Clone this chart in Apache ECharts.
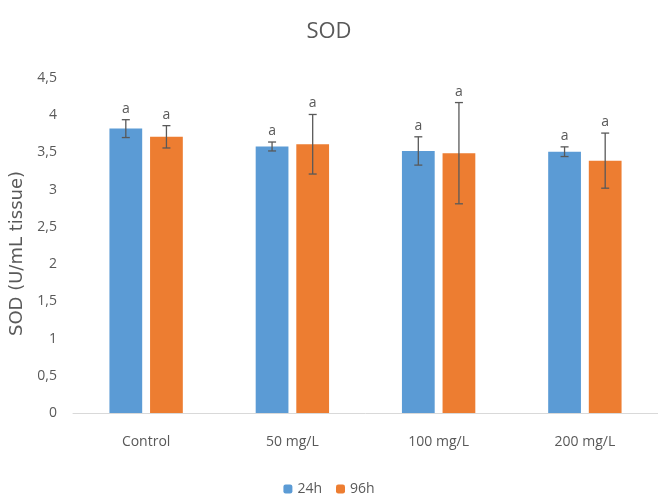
<!DOCTYPE html>
<html><head><meta charset="utf-8">
<script src="https://cdn.jsdelivr.net/npm/echarts@6/dist/echarts.min.js"></script>
<style>html,body{margin:0;padding:0;background:#fff}#c{width:658px;height:502px}</style>
</head><body><div id="c"></div>
<script>
const categories = ['Control', '50 mg/L', '100 mg/L', '200 mg/L'];
const mean24 = [3.82, 3.58, 3.52, 3.51];
const sd24 = [0.12, 0.06, 0.19, 0.065];
const mean96 = [3.71, 3.61, 3.49, 3.39];
const sd96 = [0.15, 0.40, 0.68, 0.37];
const sig24 = ['a', 'a', 'a', 'a'];
const sig96 = ['a', 'a', 'a', 'a'];
const yTicks = ['0','0,5','1','1,5','2','2,5','3','3,5','4','4,5'];

const BW = 0.224, GAP = 0.24;
const font = 'Open Sans';
function errSeries(name, means, sds, sigs, sign) {
  return {
    type: 'custom', name: name + '_err', silent: true, z: 5,
    data: means.map((m, i) => [i, m, sds[i]]),
    renderItem: function (params, api) {
      const i = api.value(0), m = api.value(1), s = api.value(2);
      const band = api.size([1, 0])[0];
      const bw = band * BW;
      const off = sign * (bw + bw * GAP) / 2;
      const top = api.coord([i, m + s]);
      const bot = api.coord([i, m - s]);
      const x = top[0] + off;
      const cap = 4;
      const st = { stroke: '#595959', lineWidth: 1.3 };
      return { type: 'group', children: [
        { type: 'line', shape: { x1: x, y1: top[1], x2: x, y2: bot[1] }, style: st },
        { type: 'line', shape: { x1: x - cap, y1: top[1], x2: x + cap, y2: top[1] }, style: st },
        { type: 'line', shape: { x1: x - cap, y1: bot[1], x2: x + cap, y2: bot[1] }, style: st },
        { type: 'text', x: x, y: top[1] - 4, style: { text: sigs[i], textAlign: 'center', textVerticalAlign: 'bottom', fill: '#595959', font: '14px "' + font + '"' } }
      ]};
    }
  };
}
const chart = echarts.init(document.getElementById('c'));
chart.setOption({
  animation: false,
  textStyle: { fontFamily: font },
  title: { text: 'SOD', left: 'center', top: 16, textStyle: { fontFamily: font, fontSize: 22, fontWeight: 'normal', color: '#595959' } },
  legend: { bottom: 1, left: 'center', itemWidth: 9, itemHeight: 9, itemGap: 14, data: ['24h', '96h'], textStyle: { fontSize: 14, color: '#595959' } },
  grid: { left: 73, right: 0, top: 78, bottom: 89 },
  xAxis: { type: 'category', data: categories, axisLine: { lineStyle: { color: '#d9d9d9' } }, axisTick: { show: false }, axisLabel: { color: '#595959', fontSize: 14, margin: 22 } },
  yAxis: { type: 'value', min: 0, max: 4.5, interval: 0.5,
    name: 'SOD (U/mL tissue)', nameLocation: 'middle', nameGap: 42, nameRotate: 90,
    nameTextStyle: { color: '#595959', fontSize: 18, fontFamily: 'DejaVu Sans', padding: [0, 16, 0, 0] },
    axisLine: { show: false }, axisTick: { show: false }, splitLine: { show: false },
    axisLabel: { color: '#595959', fontSize: 14, margin: 16, formatter: v => yTicks[Math.round(v * 2)] } },
  series: [
    { name: '24h', type: 'bar', data: mean24, barWidth: (BW * 100) + '%', barGap: (GAP * 100) + '%', itemStyle: { color: '#5b9bd5' } },
    { name: '96h', type: 'bar', data: mean96, barWidth: (BW * 100) + '%', itemStyle: { color: '#ed7d31' } },
    errSeries('24h', mean24, sd24, sig24, -1),
    errSeries('96h', mean96, sd96, sig96, 1)
  ]
});
</script></body></html>
